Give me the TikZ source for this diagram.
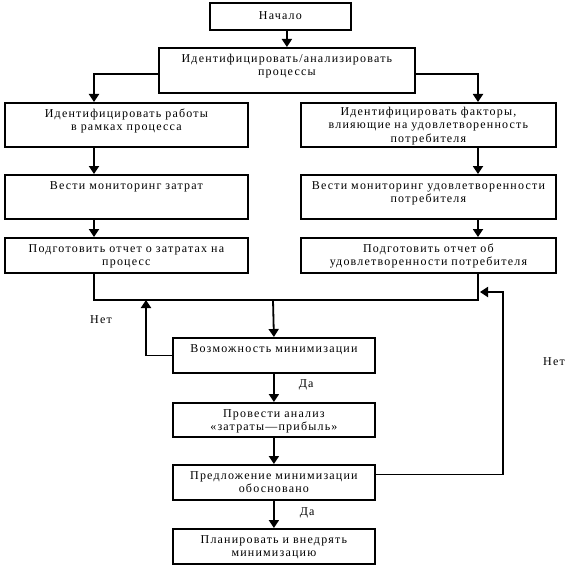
\documentclass[tikz,border=0pt]{standalone}
\usepackage{fontspec}
\setmainfont{Liberation Serif}[LetterSpace=10]
\usetikzlibrary{arrows.meta}

\begin{document}
\begin{tikzpicture}[x=1pt,y=-1pt,
 block/.style={draw,line width=1.8pt,anchor=north west,align=center,
   inner xsep=0pt,inner ysep=0pt,text height=14.5pt,
   font=\fontsize{12}{13.5}\selectfont},
 flow/.style={-{Triangle[length=8pt,width=10pt]},line width=1.8pt},
 link/.style={line width=1.8pt},
 answer/.style={font=\fontsize{12}{13.5}\selectfont,inner sep=1pt}
]
\useasboundingbox (0,0) rectangle (567,567);
\node[block,text width=141pt,text height=17pt,text depth=10pt] (start) at (209,2)
 {Начало};
\node[block,text width=256pt,text depth=30.5pt] (ident) at (158,47)
 {Идентифицировать/анализировать\\процессы};
\node[block,text width=243pt,text depth=29.5pt] (workL) at (4,102)
 {Идентифицировать работы\\в рамках процесса};
\node[block,text width=255pt,text height=12.5pt,text depth=31.5pt] (factR) at (300,102)
 {Идентифицировать факторы,\\влияющие на удовлетворенность\\потребителя};
\node[block,text width=243pt,text depth=29.5pt] (monL) at (4,174)
 {Вести мониторинг затрат};
\node[block,text width=255pt,text depth=29.5pt] (monR) at (300,174)
 {Вести мониторинг удовлетворенности\\потребителя};
\node[block,text width=243pt,text depth=20.5pt] (repL) at (4,237)
 {Подготовить отчет о затратах на\\процесс};
\node[block,text width=255pt,text depth=20.5pt] (repR) at (300,237)
 {Подготовить отчет об\\удовлетворенности потребителя};
\node[block,text width=202pt,text depth=20.5pt] (poss) at (172,337)
 {Возможность минимизации};
\node[block,text width=202pt,text depth=19.5pt] (anal) at (172,402)
 {Провести анализ\\«затраты—прибыль»};
\node[block,text width=202pt,text depth=20.5pt] (prop) at (172,464)
 {Предложение минимизации\\обосновано};
\node[block,text width=202pt,text depth=20.5pt] (plan) at (172,528)
 {Планировать и внедрять\\минимизацию};

% branch columns and joins
\coordinate (lx) at (94,0);
\coordinate (rx) at (478,0);
\coordinate (merge) at (273,300);
\coordinate (noback) at (146,300);
\coordinate (loopup) at (503,292);
\coordinate (looptip) at (480,292);

\draw[flow] (start.south -| ident.north) -- (ident.north);
\draw[flow] ([yshift=-3.5pt]ident.west) -| (workL.north -| lx);
\draw[flow] ([yshift=-3.5pt]ident.east) -| (factR.north -| rx);
\draw[flow] (workL.south -| lx) -- (monL.north -| lx);
\draw[flow] (monL.south -| lx) -- (repL.north -| lx);
\draw[flow] (factR.south -| rx) -- (monR.north -| rx);
\draw[flow] (monR.south -| rx) -- (repR.north -| rx);
\draw[link] (repL.south -| lx) |- (merge) -| (repR.south -| rx);
\draw[flow] (merge) -- (poss.north);
\draw[flow] (poss.west) -| (noback);
\draw[flow] (poss.south) -- node[answer,pos=.4,right=23pt] {Да} (anal.north);
\draw[flow] (anal.south) -- (prop.north);
\draw[flow] ([yshift=8pt]prop.east) -| (loopup) -- (looptip);
\draw[flow] (prop.south) -- node[answer,pos=.45,right=24pt] {Да} (plan.north);
\node[answer] (noL) at (101,320) {Нет};
\node[answer] (noR) at (554,362) {Нет};
\end{tikzpicture}
\end{document}
